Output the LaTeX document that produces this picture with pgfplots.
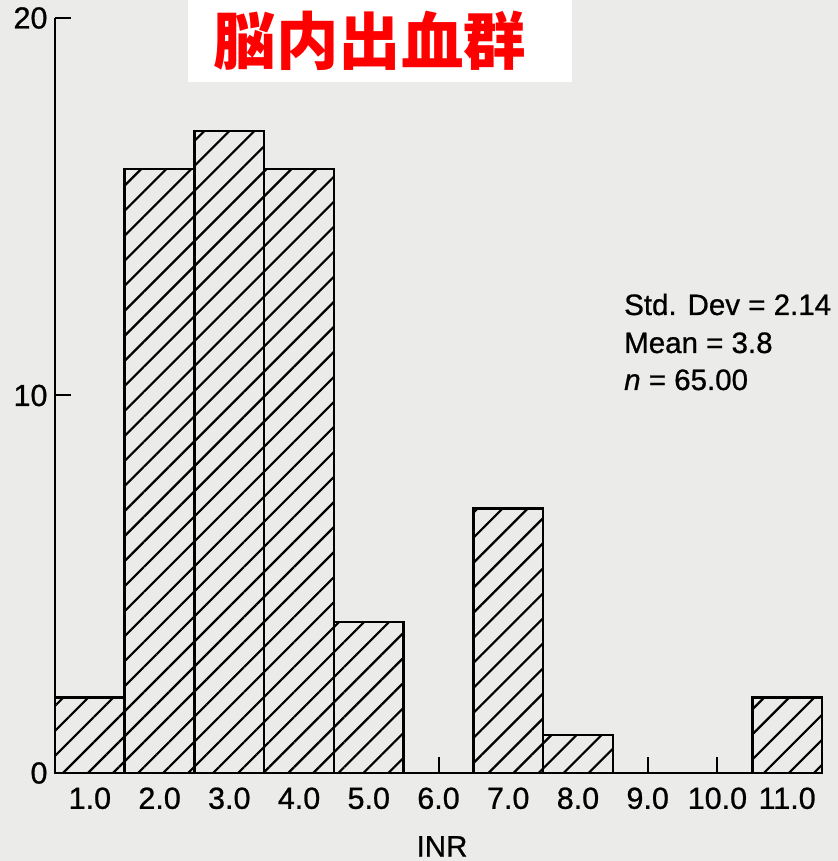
\documentclass[border=0pt]{standalone}
\usepackage{pgfplots}
\pgfplotsset{compat=1.18}
\usepackage{pgfplotstable}
\usepackage{fontspec}
\setmainfont{Liberation Sans}
\newfontfamily\heavy[FakeBold=0.8]{Liberation Sans}
\newfontfamily\cjk{Noto Sans CJK JP}
\usetikzlibrary{patterns.meta}
\definecolor{paper}{RGB}{235,235,233}
\definecolor{titlered}{RGB}{255,0,0}

% INR histogram: bin centre and count
\pgfplotstableread{
x n
1 2
2 16
3 17
4 16
5 4
6 0
7 7
8 1
9 0
10 0
11 2
}\inrdata

\begin{document}
\begin{tikzpicture}
\useasboundingbox (0bp,0bp) rectangle (838bp,861bp);
\fill[paper] (0bp,0bp) rectangle (838bp,861bp);
\fill[white] (188bp,779bp) rectangle (572bp,861bp);
\node[text=titlered, inner sep=0pt, font=\cjk\bfseries\fontsize{62.5bp}{70bp}\selectfont] at (370bp,820bp) {脳内出血群};
\begin{axis}[
  name=hist,
  at={(55bp,88bp)}, anchor=south west,
  scale only axis, width=767bp, height=755bp,
  xmin=0.5, xmax=11.5, ymin=0, ymax=20,
  axis x line*=bottom, axis y line*=left,
  axis line style={line width=2.5bp, -},
  xtick={1,...,11},
  xticklabels={1.0,2.0,3.0,4.0,5.0,6.0,7.0,8.0,9.0,10.0,11.0},
  ytick={0,10,20},
  tick align=inside, major tick length=16bp,
  tick style={line width=2bp, black},
  /pgf/number format/assume math mode=true,
  tick label style={font=\heavy\fontsize{30.5bp}{34bp}\selectfont},
  xticklabel style={yshift=-11bp},
  yticklabel style={xshift=-4bp},
  clip=false,
]
\addplot[ybar, bar width=1, draw=black, line width=2.5bp, fill=paper,
  postaction={pattern={Lines[angle=45,distance=17.7bp,line width=2.2bp]}, pattern color=black}]
  table[x=x, y=n] {\inrdata};
\end{axis}
% axis title
\node[anchor=base, inner sep=0pt, font=\heavy\fontsize{29.5bp}{34bp}\selectfont] at (442bp,4.5bp) {INR};
\begin{scope}[font=\heavy\fontsize{29.5bp}{38bp}\selectfont]
\node[anchor=base west, inner sep=0pt] at (624bp,546bp) {Std. Dev = 2.14};
\node[anchor=base west, inner sep=0pt] at (624bp,508bp) {Mean = 3.8};
\node[anchor=base west, inner sep=0pt] at (624bp,471bp) {\textit{n} = 65.00};
\end{scope}
\end{tikzpicture}
\end{document}
